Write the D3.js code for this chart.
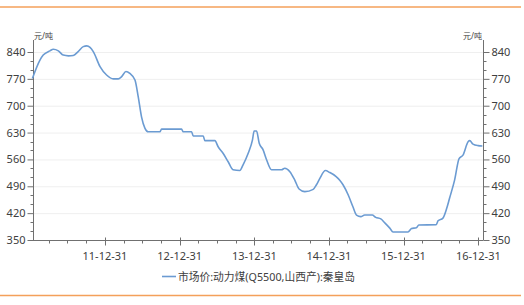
<!DOCTYPE html>
<html><head><meta charset="utf-8">
<script src="https://cdn.jsdelivr.net/npm/d3@7"></script>
<style>
body{margin:0;background:#fff;}
text{font-family:"Noto Sans","Noto Sans CJK SC",sans-serif;fill:#404040;}
</style></head>
<body><svg id="c" width="524" height="305"></svg>
<script>
const dates = ["2011-01-10","2011-02-16","2011-03-04","2011-04-06","2011-04-22","2011-05-17","2011-06-10","2011-07-05","2011-07-29","2011-08-22","2011-09-16","2011-10-03","2011-10-19","2011-11-04","2011-12-07","2012-01-08","2012-02-10","2012-03-05","2012-03-22","2012-04-12","2012-05-01","2012-05-26","2012-06-11","2012-06-27","2012-07-14","2012-07-30","2012-09-25","2012-10-03","2013-01-09","2013-01-17","2013-02-27","2013-03-07","2013-04-25","2013-05-03","2013-06-21","2013-07-07","2013-07-31","2013-08-25","2013-09-18","2013-10-21","2013-11-06","2013-12-01","2013-12-22","2013-12-30","2014-01-11","2014-01-24","2014-02-12","2014-03-01","2014-03-25","2014-05-13","2014-05-29","2014-06-23","2014-07-17","2014-08-07","2014-09-04","2014-10-15","2014-10-31","2014-11-16","2014-12-14","2015-01-04","2015-02-03","2015-02-22","2015-03-10","2015-04-04","2015-04-28","2015-05-15","2015-06-05","2015-06-24","2015-07-31","2015-08-17","2015-09-11","2015-09-30","2015-10-25","2015-11-10","2016-01-22","2016-02-08","2016-03-03","2016-03-15","2016-06-08","2016-06-17","2016-07-11","2016-07-28","2016-08-13","2016-09-06","2016-09-28","2016-10-17","2016-11-11","2016-11-19","2016-12-05","2016-12-30","2017-01-20"];
const prices = [771,819,832,843,847,843,832,830,831,841,854,856,852,841,802,780,770,770,776,789,784,767,723,671,641,632,632,639,639,632,632,621,621,609,609,593,576,554,533,531,546,576,611,634,634,602,585,559,533,533,537,528,506,483,476,482,494,510,531,526,516,506,494,468,436,415,411,415,415,409,405,395,381,371,371,380,382,389,390,400,407,430,460,506,562,571,606,609,600,596,595];
const yTicks = [350,420,490,560,630,700,770,840];
const xTickLabelDates = ["2011-12-31","2012-12-31","2013-12-31","2014-12-31","2015-12-31","2016-12-31"];
const seriesName = "市场价:动力煤(Q5500,山西产):秦皇岛";
const unit = "元/吨";

const parse = d3.timeParse("%Y-%m-%d");
const data = dates.map((d,i)=>({date:parse(d),v:prices[i]}));
const svg = d3.select("#c");
const L=33,R=483,T=40,B=240;
const x = d3.scaleTime().domain([parse("2011-01-13"),parse("2017-01-23")]).range([L,R]);
const y = d3.scaleLinear().domain([350,840]).range([B,52]);
const axisCol="#707070", lineCol="#6b9bd2", orange="#f4a05a";

// frame lines
svg.append("line").attr("x1",0).attr("x2",521).attr("y1",7).attr("y2",7).attr("stroke",orange).attr("stroke-width",1.5);
svg.append("line").attr("x1",0).attr("x2",521).attr("y1",295.5).attr("y2",295.5).attr("stroke",orange).attr("stroke-width",1.5);

// grid
svg.append("g").selectAll("line").data(yTicks.slice(1)).join("line")
  .attr("x1",L).attr("x2",R).attr("y1",d=>y(d)+0.5).attr("y2",d=>y(d)+0.5)
  .attr("stroke","#efefef").attr("stroke-width",1);

// minor y ticks
const minorY=[];
for(let i=0;i<yTicks.length-1;i++){minorY.push(yTicks[i]+70/3,yTicks[i]+140/3);}
function yAxis(g, orient){
  g.call(orient(y).tickValues(yTicks).tickSize(6).tickPadding(2));
  g.select(".domain").remove();
  g.selectAll(".tick line").attr("stroke",axisCol);
  g.selectAll(".tick text").attr("font-size",11).style("fill","#404040");
}
const gl = svg.append("g").attr("transform",`translate(${L+0.5},0)`).call(g=>yAxis(g,d3.axisLeft));
const gr = svg.append("g").attr("transform",`translate(${R+0.5},0)`).call(g=>yAxis(g,d3.axisRight));
[ [gl,-1],[gr,1] ].forEach(([g,s])=>{
  g.append("g").selectAll("line").data(minorY).join("line")
   .attr("x1",0).attr("x2",3*s).attr("y1",d=>Math.round(y(d))+0.5).attr("y2",d=>Math.round(y(d))+0.5).attr("stroke",axisCol);
  g.append("line").attr("x1",0).attr("x2",0).attr("y1",T).attr("y2",B).attr("stroke",axisCol);
});

// x axis
const quarterTicks = d3.timeMonth.range(parse("2011-03-01"),parse("2017-01-24"),3).map(d=>d3.timeDay.offset(d3.timeMonth.offset(d,1),-1));
const majorSet = new Set(xTickLabelDates);
const fmt = d3.timeFormat("%Y-%m-%d");
const gx = svg.append("g").attr("transform",`translate(0,${B+0.5})`);
gx.append("line").attr("x1",L).attr("x2",R+0.5).attr("stroke",axisCol);
gx.selectAll("line.t").data(quarterTicks).join("line").attr("class","t")
  .attr("x1",d=>Math.round(x(d))+0.5).attr("x2",d=>Math.round(x(d))+0.5)
  .attr("y1",d=>majorSet.has(fmt(d))?-3:0).attr("y2",d=>majorSet.has(fmt(d))?5:3).attr("stroke",axisCol);
gx.selectAll("text").data(xTickLabelDates.map(parse)).join("text")
  .attr("x",d=>x(d)).attr("y",19).attr("text-anchor","middle").attr("font-size",11)
  .text(d3.timeFormat("%y-%m-%d"));

// unit labels
svg.append("text").attr("x",L+1).attr("y",39).attr("font-size",8).text(unit);
svg.append("text").attr("x",R-1).attr("y",39).attr("font-size",8).attr("text-anchor","end").text(unit);

// line
svg.append("path").datum(data)
  .attr("d",d3.line().x(d=>x(d.date)).y(d=>y(d.v)).curve(d3.curveMonotoneX))
  .attr("fill","none").attr("stroke",lineCol).attr("stroke-width",1.6);

// legend
svg.append("line").attr("x1",162).attr("x2",176).attr("y1",276.5).attr("y2",276.5).attr("stroke",lineCol).attr("stroke-width",1.6);
svg.append("text").attr("x",178).attr("y",280.5).attr("font-size",11).attr("textLength",177).attr("lengthAdjust","spacingAndGlyphs").text(seriesName);
</script></body></html>
